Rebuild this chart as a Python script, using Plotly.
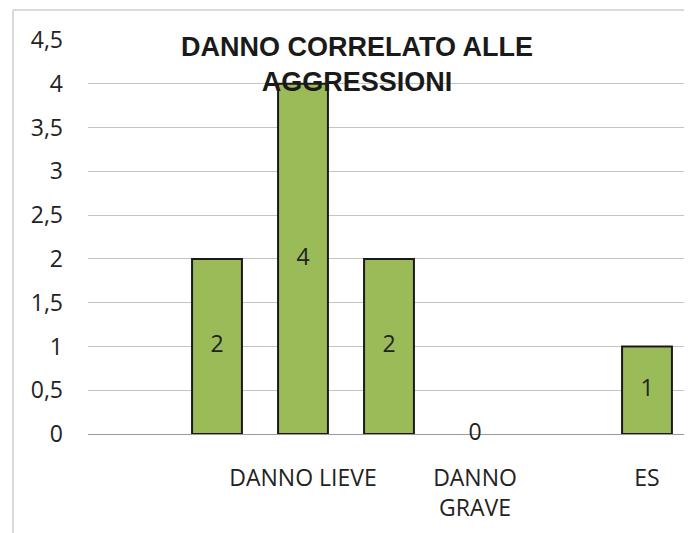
import plotly.graph_objects as go

# category slots (only some labels are shown in the original chart)
slot_labels = ["", "", "DANNO LIEVE", "", "DANNO<br>GRAVE", "", "ES"]
values = [None, 2, 4, 2, 0, None, 1]
y_ticks = [0, 0.5, 1, 1.5, 2, 2.5, 3, 3.5, 4, 4.5]

positions = list(range(len(slot_labels)))
label_y = [v / 2 if v is not None else None for v in values]
label_text = [str(v) if v is not None else "" for v in values]
# zero-height bars get no outline
outline_w = [2 if v else 0 for v in values]

tick_font = dict(family="Open Sans", size=23, color="#222222")

fig = go.Figure()
fig.add_trace(
    go.Bar(
        x=positions,
        y=values,
        width=0.58,
        marker=dict(color="#9BBB59", line=dict(color="#1a1a1a", width=outline_w)),
        hoverinfo="skip",
    )
)
# data labels, centred on each bar
fig.add_trace(
    go.Scatter(
        x=positions,
        y=label_y,
        text=label_text,
        mode="text",
        textposition="middle center",
        textfont=tick_font,
        hoverinfo="skip",
        cliponaxis=False,
    )
)

# page body has an 8px margin, so the figure is a bit smaller than the window
fig.update_layout(
    width=684,
    height=525,
    margin=dict(l=80, r=2, t=32, b=99, autoexpand=False),
    paper_bgcolor="white",
    plot_bgcolor="white",
    showlegend=False,
    separators=",.",
    xaxis=dict(
        range=[-0.5, len(slot_labels) - 0.5],
        tickvals=positions,
        ticktext=slot_labels,
        tickfont=tick_font,
        showgrid=False,
        zeroline=False,
        ticks="",
        ticklabelstandoff=28,
        automargin=False,
        fixedrange=True,
    ),
    yaxis=dict(
        range=[0, 4.5],
        tickvals=y_ticks,
        tickfont=tick_font,
        showgrid=True,
        gridcolor="#c4c4c4",
        gridwidth=1,
        zeroline=True,
        zerolinecolor="#9a9a9a",
        zerolinewidth=1,
        ticklabelstandoff=24,
        automargin=False,
        fixedrange=True,
    ),
    annotations=[
        dict(
            text="<b>DANNO CORRELATO ALLE<br>AGGRESSIONI</b>",
            xref="paper",
            yref="paper",
            x=0.447,
            y=1.025,
            xanchor="center",
            yanchor="top",
            showarrow=False,
            font=dict(family="Liberation Sans", size=27, color="#1a1a1a"),
        )
    ],
    shapes=[
        # chart-area border (only top and left edges are visible)
        dict(type="line", xref="paper", yref="paper", x0=-0.1246, x1=1.01,
             y0=1.076, y1=1.076, line=dict(color="#d9d9d9", width=2)),
        dict(type="line", xref="paper", yref="paper", x0=-0.1246, x1=-0.1246,
             y0=1.076, y1=-0.3, line=dict(color="#d9d9d9", width=2)),
    ],
)

fig.write_html("out.html")
